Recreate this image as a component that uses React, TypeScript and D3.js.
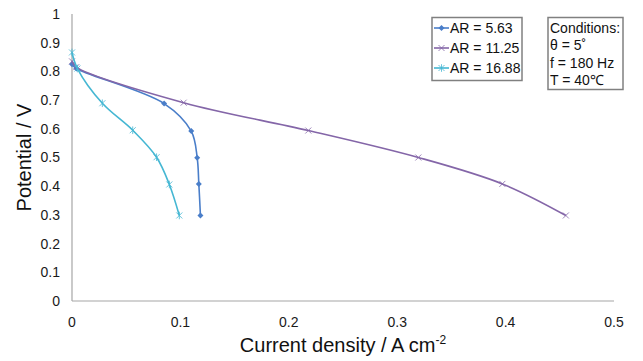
import React, { useEffect, useRef } from 'react';
import * as d3 from 'd3';

// AR = 5.63
const currentAR563 = [0, 0.004, 0.085, 0.110, 0.1155, 0.117, 0.1185];
const potentialAR563 = [0.825, 0.81, 0.688, 0.592, 0.499, 0.408, 0.298];
// AR = 11.25
const currentAR1125 = [0, 0.004, 0.103, 0.218, 0.3195, 0.397, 0.4556];
const potentialAR1125 = [0.835, 0.815, 0.691, 0.594, 0.5, 0.408, 0.298];
// AR = 16.88
const currentAR1688 = [0, 0.005, 0.028, 0.056, 0.078, 0.0898, 0.099];
const potentialAR1688 = [0.866, 0.81, 0.689, 0.595, 0.501, 0.406, 0.298];

const seriesLabels = ['AR = 5.63', 'AR = 11.25', 'AR = 16.88'];
const xTicks = [0, 0.1, 0.2, 0.3, 0.4, 0.5];
const yTicks = [0, 0.1, 0.2, 0.3, 0.4, 0.5, 0.6, 0.7, 0.8, 0.9, 1];
const conditions = ['Conditions:', 'θ = 5˚', 'f = 180 Hz', 'T = 40℃'];

const App = () => {
  const ref = useRef<SVGSVGElement | null>(null);

  useEffect(() => {
    const width = 643;
    const height = 361;
    const font = 'Liberation Sans, Arial, sans-serif';

    const svg = d3.select(ref.current);
    svg.selectAll('*').remove();

    const x = d3.scaleLinear().domain([0, 0.5]).range([72, 614]);
    const y = d3.scaleLinear().domain([0, 1]).range([301, 14]);

    const series = [
      { label: seriesLabels[0], xs: currentAR563, ys: potentialAR563, color: '#4a7ec9', marker: 'diamond' },
      { label: seriesLabels[1], xs: currentAR1125, ys: potentialAR1125, color: '#8466a8', marker: 'x' },
      { label: seriesLabels[2], xs: currentAR1688, ys: potentialAR1688, color: '#45b7d3', marker: 'star' }
    ];

    // axes
    svg.append('line')
      .attr('x1', x(0)).attr('x2', x(0))
      .attr('y1', y(1)).attr('y2', y(0))
      .attr('stroke', '#a6a6a6').attr('stroke-width', 1.2);
    svg.append('line')
      .attr('x1', x(0)).attr('x2', x(0.5))
      .attr('y1', y(0)).attr('y2', y(0))
      .attr('stroke', '#a6a6a6').attr('stroke-width', 1.2);

    svg.selectAll('.ytick')
      .data(yTicks)
      .enter()
      .append('text')
      .attr('x', 60)
      .attr('y', d => y(d))
      .attr('dy', '0.35em')
      .attr('text-anchor', 'end')
      .attr('font-family', font)
      .attr('font-size', 14)
      .attr('fill', '#1a1a1a')
      .text(d => d3.format('~g')(d));

    svg.selectAll('.xtick')
      .data(xTicks)
      .enter()
      .append('text')
      .attr('x', d => x(d))
      .attr('y', 322)
      .attr('dy', '0.35em')
      .attr('text-anchor', 'middle')
      .attr('font-family', font)
      .attr('font-size', 14)
      .attr('fill', '#1a1a1a')
      .text(d => d3.format('~g')(d));

    // axis titles
    svg.append('text')
      .attr('transform', `translate(31,${(y(0) + y(1)) / 2}) rotate(-90)`)
      .attr('text-anchor', 'middle')
      .attr('font-family', font)
      .attr('font-size', 20)
      .attr('fill', '#111')
      .text('Potential / V');

    const xt = svg.append('text')
      .attr('x', (x(0) + x(0.5)) / 2)
      .attr('y', 352)
      .attr('text-anchor', 'middle')
      .attr('font-family', font)
      .attr('font-size', 20)
      .attr('fill', '#111');
    xt.append('tspan').text('Current density  / A cm');
    xt.append('tspan').attr('font-size', 12).attr('dy', -8).text('-2');

    const line = d3.line<[number, number]>()
      .x(d => x(d[0]))
      .y(d => y(d[1]))
      .curve(d3.curveCatmullRom.alpha(0.5));

    const drawMarker = (g: any, type: string, cx: number, cy: number, color: string) => {
      if (type === 'diamond') {
        g.append('path')
          .attr('d', `M${cx},${cy - 3}L${cx + 3},${cy}L${cx},${cy + 3}L${cx - 3},${cy}Z`)
          .attr('fill', color);
      } else {
        const r = 3;
        g.append('path')
          .attr('d', `M${cx - r},${cy - r}L${cx + r},${cy + r}M${cx - r},${cy + r}L${cx + r},${cy - r}` +
            (type === 'star' ? `M${cx},${cy - r - 0.8}L${cx},${cy + r + 0.8}` : ''))
          .attr('stroke', color)
          .attr('stroke-opacity', 0.8)
          .attr('stroke-width', 1)
          .attr('fill', 'none');
      }
    };

    series.forEach(s => {
      const pts: [number, number][] = s.xs.map((v, i) => [v, s.ys[i]]);
      svg.append('path')
        .attr('d', line(pts))
        .attr('fill', 'none')
        .attr('stroke', s.color)
        .attr('stroke-width', 1.6);
      const g = svg.append('g');
      pts.forEach(p => drawMarker(g, s.marker, x(p[0]), y(p[1]), s.color));
    });

    // legend
    const legend = svg.append('g');
    legend.append('rect')
      .attr('x', 432).attr('y', 17.5)
      .attr('width', 90).attr('height', 63)
      .attr('fill', '#fff')
      .attr('stroke', '#808080')
      .attr('stroke-width', 1.5);
    series.forEach((s, i) => {
      const ly = 28 + i * 20;
      legend.append('line')
        .attr('x1', 434).attr('x2', 449)
        .attr('y1', ly).attr('y2', ly)
        .attr('stroke', s.color).attr('stroke-width', 1.6);
      drawMarker(legend, s.marker, 441.5, ly, s.color);
      legend.append('text')
        .attr('x', 450)
        .attr('y', ly)
        .attr('dy', '0.35em')
        .attr('font-family', font)
        .attr('font-size', 14)
        .attr('fill', '#111')
        .text(s.label);
    });

    // conditions box
    const cond = svg.append('g');
    cond.append('rect')
      .attr('x', 548).attr('y', 17.5)
      .attr('width', 75).attr('height', 72)
      .attr('fill', '#fff')
      .attr('stroke', '#808080')
      .attr('stroke-width', 1.5);
    cond.selectAll('text')
      .data(conditions)
      .enter()
      .append('text')
      .attr('x', 550)
      .attr('y', (d, i) => 28 + i * 17.3)
      .attr('dy', '0.35em')
      .attr('font-family', font)
      .attr('font-size', 14)
      .attr('fill', '#111')
      .text(d => d);

    svg.attr('width', width).attr('height', height);
  }, []);

  return (
    <svg ref={ref} width={643} height={361}
      style={{ position: 'absolute', left: 0, top: 0, background: '#fff' }} />
  );
};

export default App;
